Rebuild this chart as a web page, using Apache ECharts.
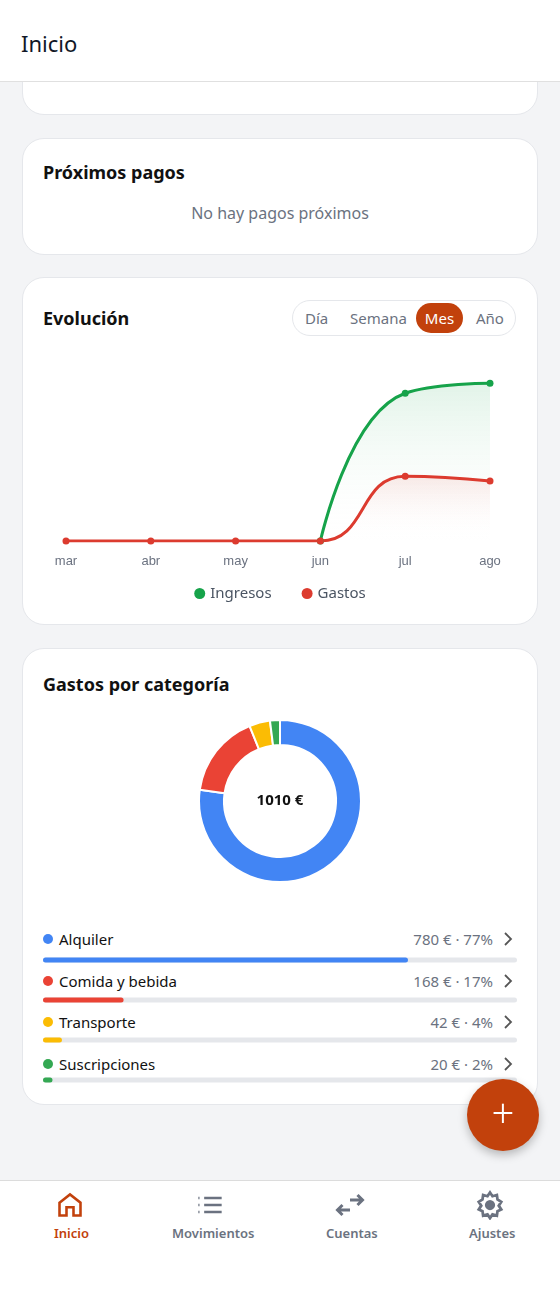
<!DOCTYPE html>
<html><head><meta charset="utf-8">
<script src="https://cdn.jsdelivr.net/npm/echarts@6/dist/echarts.min.js"></script>
<style>
*{box-sizing:border-box;margin:0;padding:0}
body{width:560px;height:1303px;background:#f3f4f6;font-family:"Noto Sans","Open Sans",sans-serif;position:relative;overflow:hidden;color:#111827}
.abs{position:absolute}
.card{position:absolute;left:22px;width:516px;background:#fff;border:1px solid #e5e7eb;border-radius:22px}
.h{font-weight:700;font-size:18px;color:#111}
.gray{color:#6b7280}
</style></head><body>
<div class="abs" style="left:0;top:0;width:560px;height:82px;background:#fff;border-bottom:1px solid #e0e0e0;z-index:2"></div>
<div class="abs" style="left:21px;top:28px;font-size:22px;z-index:3">Inicio</div>
<div class="card" style="top:40px;height:75px"></div>
<div class="card" style="top:138px;height:117px"></div>
<div class="abs h" style="left:43px;top:160px">Próximos pagos</div>
<div class="abs gray" style="left:0;width:560px;text-align:center;top:202px;font-size:16px">No hay pagos próximos</div>

<div class="card" style="top:277px;height:348px"></div>
<div class="abs h" style="left:43px;top:306px">Evolución</div>
<div class="abs" style="left:292px;top:300px;width:224px;height:36px;border:1px solid #e5e7eb;border-radius:18px"></div>
<div class="abs gray" style="left:305px;top:308px;font-size:15px">Día</div>
<div class="abs gray" style="left:350px;top:308px;font-size:15px">Semana</div>
<div class="abs" style="left:416px;top:303px;width:47px;height:30px;border-radius:15px;background:#c2410c;color:#fff;font-size:15px;text-align:center;line-height:30px">Mes</div>
<div class="abs gray" style="left:476px;top:308px;font-size:15px">Año</div>
<div id="line" class="abs" style="left:22px;top:340px;width:516px;height:280px"></div>

<div class="card" style="top:648px;height:457px"></div>
<div class="abs h" style="left:43px;top:672px">Gastos por categoría</div>
<div id="pie" class="abs" style="left:180px;top:700px;width:200px;height:202px"></div>
<div id="rows"></div>
<div id="bars" class="abs" style="left:43px;top:940px;width:474px;height:160px"></div>

<div class="abs" style="left:467px;top:1079px;width:72px;height:72px;border-radius:36px;background:#c2410c;box-shadow:0 4px 10px rgba(0,0,0,.25);color:#fff;font-size:40px;text-align:center;line-height:68px;font-weight:300">+</div>

<div class="abs" style="left:0;top:1180px;width:560px;height:123px;background:#fff;border-top:1px solid #dcdcdc"></div>
<svg class="abs" style="left:56px;top:1191px" width="28" height="28" viewBox="0 0 24 24" fill="none" stroke="#c2410c" stroke-width="2.2"><path d="M3 10l9-7 9 7v11h-6v-7h-6v7H3z"/></svg>
<svg class="abs" style="left:196px;top:1193px" width="28" height="24" viewBox="0 0 24 20" fill="none" stroke="#6b7280" stroke-width="2.2"><path d="M7 4h15M7 10h15M7 16h15M2 4h1M2 10h1M2 16h1"/></svg>
<svg class="abs" style="left:335px;top:1192px" width="30" height="26" viewBox="0 0 24 20" fill="none" stroke="#6b7280" stroke-width="2.4"><path d="M12 6h10M18 2l4 4-4 4M12 14H2M6 10l-4 4 4 4"/></svg>
<svg class="abs" style="left:475px;top:1190px" width="30" height="30" viewBox="0 0 24 24" fill="none" stroke="#6b7280" stroke-width="2.2"><circle cx="12" cy="12" r="3" fill="#6b7280"/><path d="M12 2l2 3 3.5-1 .5 3.5 3 2-2 3 2 3-3 1.5-.5 3.5-3.5-1-2 3-2-3-3.5 1-.5-3.5-3-1.5 2-3-2-3 3-2 .5-3.5 3.5 1z"/></svg>
<div class="abs" style="left:54px;top:1224px;font-size:13px;color:#c2410c;font-weight:600">Inicio</div>
<div class="abs gray" style="left:172px;top:1224px;font-size:13px;font-weight:600">Movimientos</div>
<div class="abs gray" style="left:326px;top:1224px;font-size:13px;font-weight:600">Cuentas</div>
<div class="abs gray" style="left:469px;top:1224px;font-size:13px;font-weight:600">Ajustes</div>

<script>
const months=['mar','abr','may','jun','jul','ago'];
const ingresos=[null,null,null,0,2490,2660];
const gastos=[0,0,0,0,1090,1010];
const cats=['Alquiler','Comida y bebida','Transporte','Suscripciones'];
const catValues=[780,168,42,20];
const catPct=[77,17,4,2];
const catColors=['#4285f4','#ea4335','#fbbc04','#34a853'];
const total=1010;

const grad=(c)=>new echarts.graphic.LinearGradient(0,0,0,1,[{offset:0,color:c},{offset:1,color:'rgba(255,255,255,0)'}]);
echarts.init(document.getElementById('line')).setOption({
  animation:false,
  grid:{left:44,right:48,top:23,bottom:79},
  legend:{bottom:14,icon:'circle',itemWidth:11,itemHeight:11,itemGap:30,textStyle:{color:'#4b5563',fontSize:15,fontFamily:'Noto Sans'}},
  xAxis:{type:'category',data:months,boundaryGap:false,axisLine:{show:false},axisTick:{show:false},axisLabel:{color:'#6b7280',fontSize:13,margin:14}},
  yAxis:{type:'value',min:0,max:3000,show:false,splitLine:{show:false}},
  series:[
    {name:'Ingresos',type:'line',smooth:true,data:ingresos,color:'#16a34a',symbol:'circle',symbolSize:7,lineStyle:{width:3},areaStyle:{color:grad('rgba(22,163,74,0.18)')}},
    {name:'Gastos',type:'line',smooth:true,data:gastos,color:'#dc3b2f',symbol:'circle',symbolSize:7,lineStyle:{width:3},areaStyle:{color:grad('rgba(220,59,47,0.15)')}}
  ]
});

echarts.init(document.getElementById('pie')).setOption({
  animation:false,
  title:{text:total+' €',left:'center',top:'middle',textStyle:{fontSize:15,fontWeight:'bold',color:'#111',fontFamily:'Noto Sans'}},
  series:[{type:'pie',radius:[56,81],center:['50%','50%'],startAngle:90,label:{show:false},
    itemStyle:{borderColor:'#fff',borderWidth:2},
    data:cats.map((c,i)=>({name:c,value:catValues[i],itemStyle:{color:catColors[i]}}))}]
});

const rows=document.getElementById('rows');
const rowY=[929,971,1012,1054];
cats.forEach((c,i)=>{
  rows.insertAdjacentHTML('beforeend',
   `<div class="abs" style="left:43px;top:${rowY[i]+5}px;width:10px;height:10px;border-radius:5px;background:${catColors[i]}"></div>
    <div class="abs" style="left:59px;top:${rowY[i]}px;font-size:15px;color:#111">${c}</div>
    <div class="abs gray" style="right:67px;top:${rowY[i]}px;font-size:15px">${catValues[i]} € · ${catPct[i]}%</div>
    <svg class="abs" style="left:503px;top:${rowY[i]+3}px" width="10" height="14" viewBox="0 0 10 14" fill="none" stroke="#555" stroke-width="1.8"><path d="M2 1l6 6-6 6"/></svg>`);
});
echarts.init(document.getElementById('bars')).setOption({
  animation:false,
  grid:{left:0,right:0,top:0,height:166},
  xAxis:{type:'value',min:0,max:100,show:false},
  yAxis:{type:'category',data:cats,inverse:true,show:false},
  series:[{type:'bar',data:catPct.map((p,i)=>({value:p,itemStyle:{color:catColors[i]}})),barWidth:5,
    showBackground:true,backgroundStyle:{color:'#e5e7eb',borderRadius:3},itemStyle:{borderRadius:3}}]
});
</script>
</body></html>
